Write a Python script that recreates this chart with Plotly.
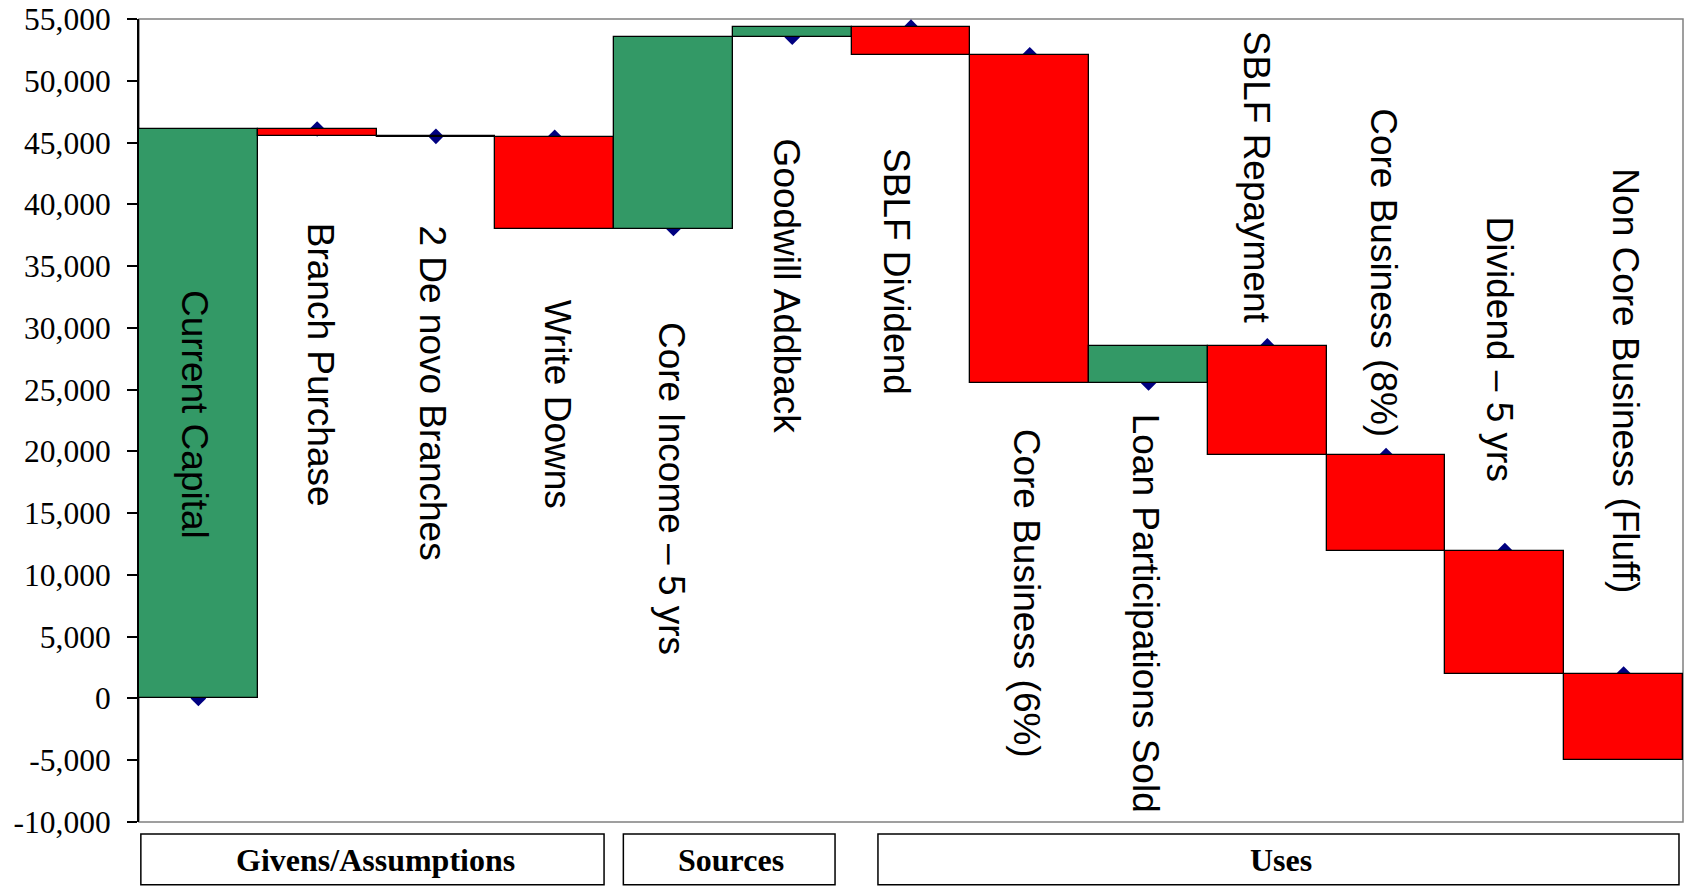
import plotly.graph_objects as go

# ---------------- data ----------------
categories = [
    "Current Capital", "Branch Purchase", "2 De novo Branches", "Write Downs",
    "Core Income – 5 yrs", "Goodwill Addback", "SBLF Dividend",
    "Core Business (6%)", "Loan Participations Sold", "SBLF Repayment",
    "Core Business (8%)", "Dividend – 5 yrs", "Non Core Business (Fluff)",
]
changes = [46100, -600, -80, -7380, 15490, 810, -2230, -26570, 3000,
           -8870, -7700, -10000, -6950]

tick_values = [-10000, -5000, 0, 5000, 10000, 15000, 20000, 25000, 30000,
               35000, 40000, 45000, 50000, 55000]
tick_labels = ["-10,000", "-5,000", "0", "5,000", "10,000", "15,000", "20,000",
               "25,000", "30,000", "35,000", "40,000", "45,000", "50,000", "55,000"]

group_names = ["Givens/Assumptions", "Sources", "Uses"]

# ---------------- layout helpers (positions, not data) ----------------
label_y = [23000, 27000, 24700, 23800, 17000, 33400, 34600, 8500, 6900,
           42200, 34500, 28250, 25700]
label_xshift = [-4, 3, -3, 3, -2, -6, -14, -3, -3, -10, -2, -5, 1]
group_spans = [(0.0012, 0.3012), (0.3137, 0.4508), (0.4786, 0.9974)]
group_text_x = [0.1533, 0.3836, 0.7396]

GREEN = "#339966"
RED = "#FF0000"

starts = []
level = 0
for c in changes:
    starts.append(level)
    level += c
colors = [GREEN if c > 0 else RED for c in changes]

fig = go.Figure()

# markers (start level of each step) -- drawn on the base axes, beneath bars
fig.add_trace(go.Scatter(
    x=categories, y=starts, mode="markers",
    marker=dict(symbol="diamond", size=12, color="#000080"),
    xaxis="x", yaxis="y", hoverinfo="skip", showlegend=False,
))

# waterfall bars on overlaying axes so they sit above the markers
fig.add_trace(go.Bar(
    x=categories, y=changes, base=starts, width=1,
    marker=dict(color=colors, line=dict(color="black", width=1.3)),
    xaxis="x2", yaxis="y2", showlegend=False,
))

xcommon = dict(type="category", categoryorder="array", categoryarray=categories,
               range=[-0.5, len(categories) - 0.5], showgrid=False,
               zeroline=False, showticklabels=False, ticks="", showline=False)

fig.update_layout(
    width=1685, height=886,
    margin=dict(l=139, r=2, t=17, b=64),
    paper_bgcolor="white", plot_bgcolor="white",
    bargap=0,
    xaxis=dict(**xcommon),
    xaxis2=dict(**xcommon, overlaying="x", visible=False),
    yaxis=dict(range=[-10000, 55000], tickvals=tick_values, ticktext=tick_labels,
               ticks="outside", ticklen=10, tickwidth=1.5, tickcolor="black",
               showline=True, linecolor="black", linewidth=2,
               showgrid=False, zeroline=False, ticklabelstandoff=10,
               tickfont=dict(family="Liberation Serif", size=31.5, color="black")),
    yaxis2=dict(range=[-10000, 55000], overlaying="y", visible=False),
)

shapes = [dict(type="rect", xref="paper", yref="paper", x0=0, x1=1, y0=0, y1=1,
               line=dict(color="#808080", width=1.5), layer="below")]
annotations = []
for cat, ly, xs in zip(categories, label_y, label_xshift):
    annotations.append(dict(
        x=cat, y=ly, xref="x", yref="y", text=cat, showarrow=False,
        textangle=90, xanchor="center", yanchor="middle", xshift=xs,
        font=dict(family="Liberation Sans", size=37, color="black"),
    ))
for name, (x0, x1), tx in zip(group_names, group_spans, group_text_x):
    shapes.append(dict(type="rect", xref="paper", yref="paper", x0=x0, x1=x1,
                       y0=-0.0783, y1=-0.0149, line=dict(color="black", width=1.5)))
    annotations.append(dict(
        x=tx, y=-0.047, xref="paper", yref="paper", text=name, showarrow=False,
        xanchor="center", yanchor="middle",
        font=dict(family="Liberation Serif", size=32, color="black", weight="bold"),
    ))
fig.update_layout(shapes=shapes, annotations=annotations)

fig.write_html("out.html")
